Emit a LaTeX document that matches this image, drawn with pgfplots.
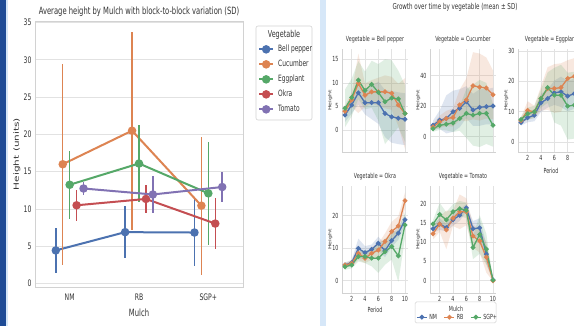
\documentclass[border=0pt]{standalone}
\usepackage{pgfplots}
\pgfplotsset{compat=1.18}
\usepackage{pgfplotstable}
\usepackage{graphicx}
\usepackage{fontspec}
\setmainfont[FakeStretch=0.68]{DejaVu Sans}
\newfontfamily\rotfont{DejaVu Sans}

\definecolor{cB}{HTML}{4C72B0}
\definecolor{cO}{HTML}{DD8452}
\definecolor{cG}{HTML}{55A868}
\definecolor{cR}{HTML}{C44E52}
\definecolor{cP}{HTML}{8172B3}
\definecolor{gridc}{HTML}{E2E2E2}
\definecolor{spinec}{HTML}{D2D2D2}
\definecolor{txt}{HTML}{333333}
\definecolor{bordblue}{RGB}{30,75,150}
\definecolor{lightblue}{HTML}{D6E7F8}

\newcommand{\fs}[1]{\fontsize{#1}{#1}\selectfont}
\newcommand{\rlab}[2]{\scalebox{1}[0.68]{\rotfont\fs{#1}#2}}

% Facet means: period, NM, RB, SGP+
\pgfplotstableread{
p nm rb sg
1 3.2 4.0 4.6
2 5.3 6.4 6.9
3 7.9 9.9 10.6
4 5.8 7.4 8.4
5 5.8 8.1 9.7
6 5.8 8.1 8.0
7 3.5 8.1 6.0
8 2.8 7.8 6.8
9 2.5 5.3 6.6
10 2.3 3.5 3.5
}\tBP
\pgfplotstableread{
p nm rb sg
1 7.3 6.2 5.1
2 10.7 9.6 7.3
3 11.8 11.8 8.0
4 16.2 12.4 8.9
5 18.4 20.7 11.8
6 22.9 24.0 15.1
7 17.3 33.3 14.0
8 19.1 32.4 15.1
9 19.6 31.8 15.1
10 20.0 27.3 7.3
}\tCu
\pgfplotstableread{
p nm rb sg
1 6.4 7.1 7.4
2 8.0 10.4 9.3
3 8.8 9.9 9.9
4 12.9 14.3 14.3
5 14.3 17.6 17.9
6 16.2 17.6 15.4
7 16.5 17.9 15.4
8 15.1 20.9 11.8
9 15.9 21.6 12.1
10 15.5 21.0 11.0
}\tEg
\pgfplotstableread{
p nm rb sg
1 4.8 4.8 4.3
2 5.5 5.3 4.8
3 9.9 8.4 7.4
4 8.6 6.9 7.4
5 9.6 8.4 6.9
6 11.5 9.4 6.9
7 9.2 12.0 8.9
8 12.3 15.1 10.5
9 14.6 16.8 7.6
10 18.7 24.6 17.1
}\tOk
\pgfplotstableread{
p nm rb sg
1 13.5 12.2 14.7
2 14.7 14.7 17.2
3 13.8 13.2 15.8
4 15.8 16.2 17.9
5 17.0 17.9 18.7
6 18.9 17.9 18.3
7 13.5 11.6 8.6
8 13.7 10.3 12.0
9 6.9 6.1 8.2
10 0.2 0.0 0.2
}\tTo

\pgfplotsset{
  fline/.style={line width=1.3pt, mark=*, mark size=1.7pt, mark options={solid}},
  bnd/.style={fill=#1, fill opacity=0.18, draw=none, forget plot},
  facet/.style={
    scale only axis, width=66pt,
    xmin=0.55, xmax=10.45, xtick={2,4,6,8,10},
    grid=major, grid style={gridc, line width=0.5pt},
    axis x line*=bottom, axis y line*=left,
    axis line style={-, spinec, line width=0.6pt},
    tick style={draw=none},
    tick label style={font=\fs{7}, text=txt},
    /pgf/number format/assume math mode=true,
    ylabel={\rlab{6.3}{Height}},
    ylabel style={at={(axis description cs:-0.18,0.5)}, anchor=center, text=txt},
    xlabel style={font=\fs{7}, text=txt, at={(axis description cs:0.5,0)}, anchor=center, yshift=-17pt},
    title style={font=\fs{7}, text=txt, at={(axis description cs:0.5,1)}, anchor=center, yshift=3pt},
  },
}

\newcommand{\facetlines}[1]{%
  \addplot[fline, cB] table[x=p,y=nm]{#1};
  \addplot[fline, cO] table[x=p,y=rb]{#1};
  \addplot[fline, cG] table[x=p,y=sg]{#1};
}

\begin{document}
\begin{tikzpicture}[x=1pt,y=1pt]
\useasboundingbox (0,0) rectangle (574,326);
\clip (0,0) rectangle (574,326);
\fill[white] (0,0) rectangle (574,326);
\fill[bordblue] (0,0) rectangle (6,326);
\fill[lightblue] (6,0) rectangle (7.5,326);
\fill[lightblue] (320,0) rectangle (326,326);

% legend frames and titles
\draw[spinec, fill=white, rounded corners=2pt, line width=0.6pt] (256,206) rectangle (312,300);
\node[font=\fs{9.5}, text=txt] at (284,291) {Vegetable};
\draw[spinec, fill=white, rounded corners=1.5pt, line width=0.5pt] (415,3) rectangle (496,24);
\node[font=\fs{7}, text=txt] at (456,17.5) {Mulch};
\node[font=\fs{8.2}, text=txt] at (455,319) {Growth over time by vegetable (mean ± SD)};

% ---------- Left panel ----------
\begin{axis}[
  at={(35pt,305pt)}, anchor=north west, scale only axis, width=208pt, height=266pt,
  xmin=-0.5, xmax=2.5, ymin=-0.45, ymax=35.2,
  xtick={0,1,2}, xticklabels={NM,RB,SGP+},
  ytick={0,5,10,15,20,25,30,35},
  ymajorgrids, grid style={gridc, line width=0.8pt},
  axis line style={spinec, line width=0.9pt},
  tick style={draw=none},
  tick label style={font=\fs{9}, text=txt},
  xticklabel style={yshift=-3pt},
  /pgf/number format/assume math mode=true,
  xlabel={Mulch}, xlabel style={font=\fs{10}, text=txt, at={(axis description cs:0.5,-0.098)}, anchor=center},
  ylabel={\rlab{10.5}{Height (units)}}, ylabel style={at={(axis description cs:-0.087,0.5)}, anchor=center, text=txt},
  title={Average height by Mulch with block-to-block variation (SD)},
  title style={font=\fs{10}, text=txt, at={(axis description cs:0.5,1)}, anchor=center, yshift=3pt},
  legend style={at={(axis description cs:1.072,0.9135)}, anchor=north west, draw=none, fill=none,
    font=\fs{8.7}, text=txt, inner sep=0pt, row sep=4.7pt,
    nodes={inner sep=1pt, text height=6.5pt, text depth=1.8pt},
    /tikz/every odd column/.style={column sep=3pt}},
  legend cell align=left,
  legend image code/.code={\draw[mark repeat=2, mark phase=2, #1] plot coordinates {(0pt,0pt) (7pt,0pt) (14pt,0pt)};},
  lp/.style={line width=2pt, mark=*, mark size=3.2pt, mark options={solid},
    error bars/.cd, y dir=both, y explicit, error mark=none, error bar style={line width=1.5pt}},
]
\addplot[cB, lp] coordinates {(-0.2,4.45) +- (0,3.05) (0.8,6.9) +- (0,3.5) (1.8,6.85) +- (0,4.5)};
\addplot[cO, lp] coordinates {(-0.1,16.0) +- (0,13.5) (0.9,20.5) +- (0,13.25) (1.9,10.45) +- (0,9.25)};
\addplot[cG, lp] coordinates {(0,13.25) +- (0,4.55) (1,16.1) +- (0,5.1) (2,12.1) +- (0,6.9)};
\addplot[cR, lp] coordinates {(0.1,10.5) +- (0,2.1) (1.1,11.35) +- (0,1.85) (2.1,8.05) +- (0,3.4)};
\addplot[cP, lp] coordinates {(0.2,12.75) +- (0,0.85) (1.2,11.95) +- (0,2.45) (2.2,12.95) +- (0,2.05)};
\legend{Bell pepper,Cucumber,Eggplant,Okra,Tomato}
\end{axis}

% ---------- Facets ----------
\begin{axis}[facet, at={(342pt,277pt)}, anchor=north west, height=103pt,
  ymin=-4.67, ymax=17.2, ytick={0,5,10,15}, xticklabels={},
  title={Vegetable = Bell pepper}]
\addplot[bnd=cB] coordinates {(1,4.7)(2,7.1)(3,10.4)(4,8.3)(5,9.3)(6,10.3)(7,8.5)(8,8.3)(9,8.0)(10,7.8)(10,-3.2)(9,-3.0)(8,-2.7)(7,-1.5)(6,1.3)(5,2.3)(4,3.3)(3,5.4)(2,3.5)(1,1.7)};
\addplot[bnd=cO] coordinates {(1,5.2)(2,7.9)(3,16.2)(4,9.9)(5,10.6)(6,11.1)(7,11.6)(8,11.3)(9,9.8)(10,11.0)(10,-4.0)(9,0.8)(8,4.3)(7,4.6)(6,5.1)(5,5.6)(4,4.9)(3,3.6)(2,4.9)(1,2.8)};
\addplot[bnd=cG] coordinates {(1,8.6)(2,10.9)(3,14.6)(4,12.4)(5,14.7)(6,14.0)(7,15.0)(8,14.8)(9,12.6)(10,9.5)(10,-2.5)(9,0.6)(8,-1.2)(7,-3.0)(6,2.0)(5,4.7)(4,4.4)(3,6.6)(2,2.9)(1,0.6)};
\facetlines{\tBP}
\end{axis}

\begin{axis}[facet, at={(430pt,277pt)}, anchor=north west, height=103pt,
  ymin=-10.2, ymax=57.4, ytick={0,20,40}, xticklabels={},
  title={Vegetable = Cucumber}]
\addplot[bnd=cB] coordinates {(1,10.3)(2,17.0)(3,27.0)(4,30.0)(5,31.0)(6,33.0)(7,28.0)(8,31.0)(9,31.0)(10,32.0)(10,8.0)(9,8.0)(8,7.0)(7,7.0)(6,12.0)(5,6.0)(4,3.0)(3,2.0)(2,5.0)(1,4.3)};
\addplot[bnd=cO] coordinates {(1,8.2)(2,13.6)(3,16.8)(4,18.4)(5,30.7)(6,38.0)(7,55.3)(8,54.4)(9,51.8)(10,43.3)(10,11.3)(9,11.8)(8,10.4)(7,11.3)(6,10.0)(5,10.7)(4,6.4)(3,6.8)(2,5.6)(1,4.2)};
\addplot[bnd=cG] coordinates {(1,7.1)(2,10.3)(3,12.0)(4,14.9)(5,19.8)(6,31.1)(7,34.0)(8,37.1)(9,35.1)(10,21.3)(10,-6.7)(9,-4.9)(8,-6.9)(7,-6.0)(6,-0.9)(5,3.8)(4,2.9)(3,4.0)(2,4.3)(1,3.1)};
\facetlines{\tCu}
\end{axis}

\begin{axis}[facet, at={(518pt,277pt)}, anchor=north west, height=103pt,
  ymin=-3.3, ymax=30.6, ytick={0,10,20,30}, xtick={2,4,6,8}, xlabel={Period},
  xlabel style={yshift=-2pt},
  title={Vegetable = Eggplant}]
\addplot[bnd=cB] coordinates {(1,7.4)(2,9.5)(3,10.8)(4,15.9)(5,17.3)(6,20.2)(7,21.5)(8,20.1)(9,20.9)(10,20.5)(10,10.5)(9,10.9)(8,10.1)(7,11.5)(6,12.2)(5,11.3)(4,9.9)(3,6.8)(2,6.5)(1,5.4)};
\addplot[bnd=cO] coordinates {(1,8.1)(2,13.4)(3,11.9)(4,18.3)(5,24.6)(6,25.6)(7,25.9)(8,26.9)(9,27.6)(10,27.0)(10,15.0)(9,15.6)(8,14.9)(7,9.9)(6,9.6)(5,10.6)(4,10.3)(3,7.9)(2,7.4)(1,6.1)};
\addplot[bnd=cG] coordinates {(1,8.4)(2,11.3)(3,11.9)(4,17.3)(5,22.9)(6,24.4)(7,25.4)(8,22.8)(9,23.1)(10,22.0)(10,0.0)(9,1.1)(8,0.8)(7,5.4)(6,6.4)(5,12.9)(4,11.3)(3,7.9)(2,7.3)(1,6.4)};
\facetlines{\tEg}
\end{axis}

\begin{axis}[facet, at={(342pt,140pt)}, anchor=north west, height=107pt,
  ymin=-3.8, ymax=29.1, ytick={0,10,20}, xlabel={Period},
  title={Vegetable = Okra}]
\addplot[bnd=cB] coordinates {(1,5.6)(2,6.3)(3,12.9)(4,10.6)(5,11.1)(6,13.5)(7,11.2)(8,14.3)(9,16.6)(10,20.2)(10,17.2)(9,12.6)(8,10.3)(7,7.2)(6,9.5)(5,8.1)(4,6.6)(3,6.9)(2,4.7)(1,4.0)};
\addplot[bnd=cO] coordinates {(1,5.4)(2,6.3)(3,10.4)(4,8.4)(5,10.4)(6,11.4)(7,14.5)(8,18.1)(9,19.8)(10,27.1)(10,22.1)(9,13.8)(8,12.1)(7,9.5)(6,7.4)(5,6.4)(4,5.4)(3,6.4)(2,4.3)(1,4.2)};
\addplot[bnd=cG] coordinates {(1,5.3)(2,5.8)(3,8.9)(4,9.4)(5,9.4)(6,11.4)(7,12.9)(8,14.5)(9,15.6)(10,21.1)(10,13.1)(9,-0.4)(8,6.5)(7,4.9)(6,2.4)(5,4.4)(4,5.4)(3,5.9)(2,3.8)(1,3.3)};
\facetlines{\tOk}
\end{axis}

\begin{axis}[facet, at={(430pt,140pt)}, anchor=north west, height=107pt,
  ymin=-3.2, ymax=24.6, ytick={0,5,10,15,20},
  title={Vegetable = Tomato},
  legend columns=3,
  legend style={at={(axis description cs:-0.212,-0.187)}, anchor=north west, draw=none, fill=none,
    font=\fs{7}, text=txt, inner sep=0pt,
    nodes={inner sep=0.8pt, text height=5pt, text depth=1.4pt},
    /tikz/every odd column/.style={column sep=1pt},
    /tikz/every even column/.style={column sep=6pt}},
  legend image code/.code={\draw[mark repeat=2, mark phase=2, #1] plot coordinates {(0pt,0pt) (5pt,0pt) (10pt,0pt)};},
]
\addplot[bnd=cB] coordinates {(1,14.5)(2,16.2)(3,14.8)(4,17.3)(5,18.5)(6,19.9)(7,15.5)(8,16.2)(9,9.4)(10,0.3)(10,0.1)(9,4.4)(8,11.2)(7,11.5)(6,17.9)(5,15.5)(4,14.3)(3,12.8)(2,13.2)(1,12.5)};
\addplot[bnd=cO] coordinates {(1,13.7)(2,16.7)(3,18.2)(4,18.2)(5,22.4)(6,21.4)(7,14.6)(8,13.3)(9,10.1)(10,0.1)(10,-0.1)(9,2.1)(8,7.3)(7,8.6)(6,14.4)(5,13.4)(4,14.2)(3,8.2)(2,12.7)(1,10.7)};
\addplot[bnd=cG] coordinates {(1,15.7)(2,20.2)(3,17.8)(4,19.9)(5,20.7)(6,20.3)(7,11.6)(8,17.0)(9,12.2)(10,0.3)(10,0.1)(9,4.2)(8,7.0)(7,5.6)(6,16.3)(5,16.7)(4,15.9)(3,13.8)(2,14.2)(1,13.7)};
\facetlines{\tTo}
\legend{NM,RB,SGP+}
\end{axis}
\end{tikzpicture}
\end{document}
